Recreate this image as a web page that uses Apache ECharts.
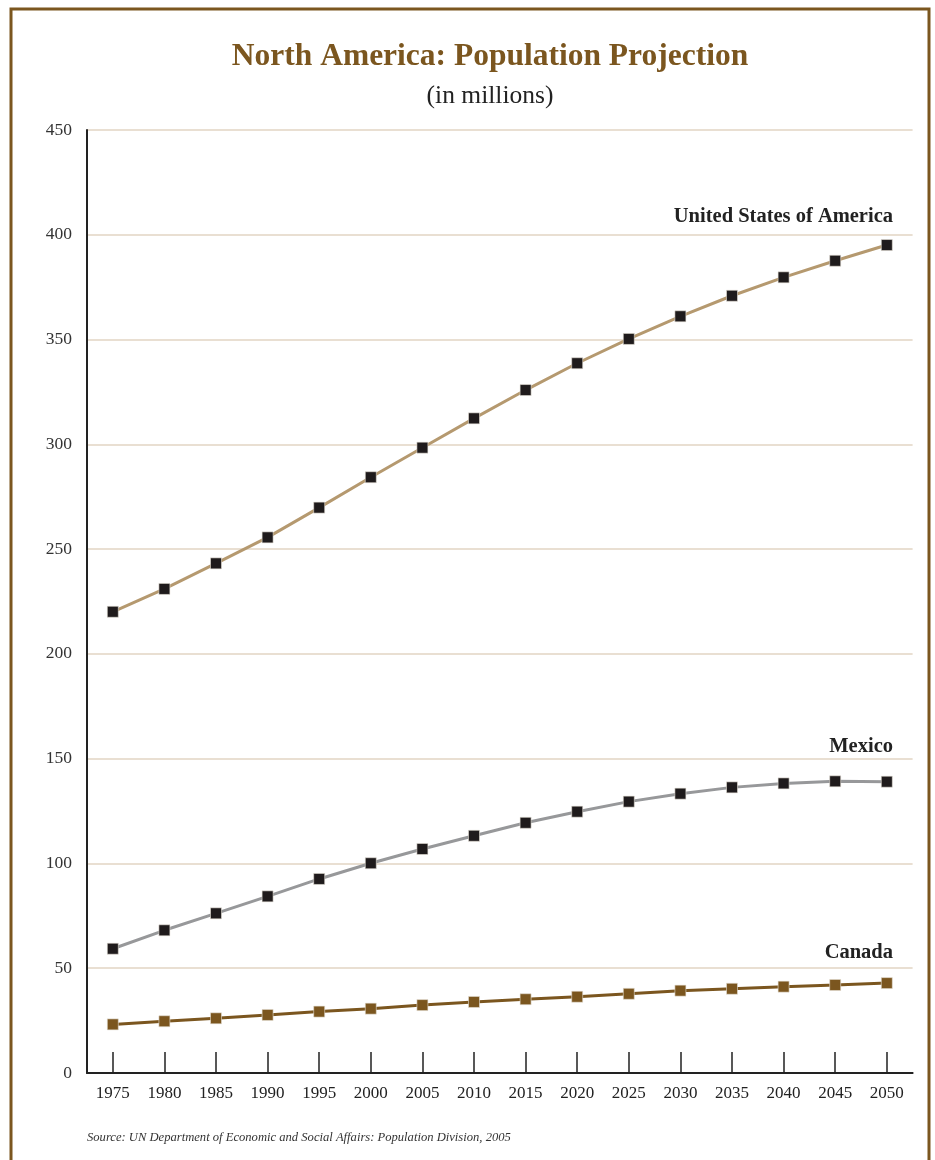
<!DOCTYPE html>
<html>
<head>
<meta charset="utf-8">
<script src="https://cdn.jsdelivr.net/npm/echarts@6/dist/echarts.min.js"></script>
<style>
html,body{margin:0;padding:0;background:#fff;}
#chart{width:935px;height:1160px;}
</style>
</head>
<body>
<div id="chart"></div>
<script>
const years = ['1975','1980','1985','1990','1995','2000','2005','2010','2015','2020','2025','2030','2035','2040','2045','2050'];
const usa = [220.1,231.0,243.2,255.6,269.8,284.3,298.4,312.4,325.9,338.7,350.3,361.1,370.9,379.7,387.6,395.1];
const mexico = [59.3,68.1,76.2,84.3,92.6,100.1,106.9,113.2,119.4,124.7,129.5,133.3,136.3,138.2,139.2,139.0];
const canada = [23.2,24.7,26.1,27.7,29.3,30.7,32.4,33.9,35.2,36.4,37.8,39.3,40.2,41.2,42.0,42.9];
const seriesNames = ['United States of America','Mexico','Canada'];
const yTicks = {min:0, max:450, interval:50};

const SERIF = '"Liberation Serif","DejaVu Serif",serif';
const BROWN = '#7b561f';

function withEndLabel(values, name, dy){
  return values.map((v,i)=> i===values.length-1 ? {
    value:v,
    label:{show:true, formatter:name, position:[12,dy], align:'right', verticalAlign:'middle',
      fontFamily:SERIF, fontWeight:'bold', fontSize:20.5, color:'#222'}
  } : v);
}

function mkSeries(name, values, lineColor, markerColor, dy){
  return {
    name:name, type:'line', data:withEndLabel(values,name,dy),
    symbol:'rect', symbolSize:11,
    lineStyle:{color:lineColor, width:3},
    itemStyle:{color:markerColor, borderColor:'#e6e0d6', borderWidth:0.6},
    label:{show:false},
    z:3
  };
}

const chart = echarts.init(document.getElementById('chart'), null, {renderer:'canvas'});
chart.setOption({
  animation:false,
  backgroundColor:'#fff',
  title:[
    {text:'North America: Population Projection', left:485, textAlign:'center', top:36,
     textStyle:{fontFamily:SERIF, fontWeight:'bold', fontSize:31.5, color:BROWN}},
    {text:'(in millions)', left:485, textAlign:'center', top:78,
     textStyle:{fontFamily:SERIF, fontWeight:'normal', fontSize:25.5, color:'#222'}},
    {text:'Source: UN Department of Economic and Social Affairs: Population Division, 2005', left:82, top:1126,
     textStyle:{fontFamily:SERIF, fontStyle:'italic', fontWeight:'normal', fontSize:12.6, color:'#333'}}
  ],
  graphic:[
    {type:'rect', shape:{x:11, y:9, width:918, height:1170},
     style:{fill:null, stroke:BROWN, lineWidth:3}, silent:true, z:100}
  ],
  grid:{left:87, right:22.4, top:130, bottom:87, containLabel:false},
  xAxis:{
    type:'category', data:years, boundaryGap:true,
    axisLine:{show:true, lineStyle:{color:'#222', width:2}},
    axisTick:{show:true, inside:true, length:21, alignWithLabel:true, lineStyle:{color:'#222', width:1.5}},
    axisLabel:{fontFamily:SERIF, fontSize:17, color:'#222', margin:12, interval:0},
    splitLine:{show:false}
  },
  yAxis:{
    type:'value', min:yTicks.min, max:yTicks.max, interval:yTicks.interval,
    axisLine:{show:true, lineStyle:{color:'#222', width:2}},
    axisTick:{show:false},
    axisLabel:{fontFamily:SERIF, fontSize:17.5, color:'#333', margin:15},
    splitLine:{show:true, lineStyle:{color:'#e9dfd2', width:2}}
  },
  series:[
    mkSeries(seriesNames[0], usa, '#b5996f', '#1f1b1c', -23),
    mkSeries(seriesNames[1], mexico, '#97989a', '#1f1b1c', -29),
    mkSeries(seriesNames[2], canada, BROWN, BROWN, -25)
  ]
});
</script>
</body>
</html>
